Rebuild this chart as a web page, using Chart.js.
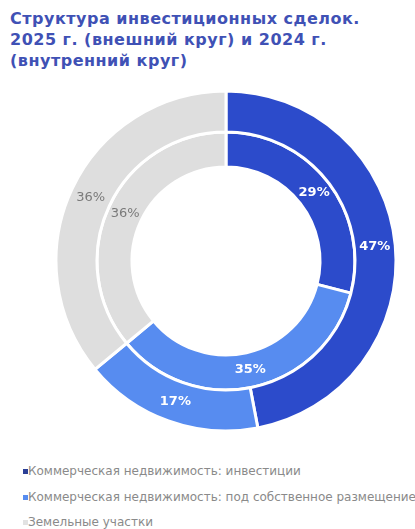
<!DOCTYPE html>
<html lang="ru">
<head>
<meta charset="utf-8">
<script src="https://cdn.jsdelivr.net/npm/chart.js@4"></script>
<style>
  html, body { margin: 0; padding: 0; background: #fff; }
  body { width: 415px; height: 529px; position: relative; overflow: hidden; font-family: "DejaVu Sans", Verdana, sans-serif; }
  .title { position: absolute; left: 10px; top: 8px; margin: 0; font-size: 16px; letter-spacing: 0.5px; line-height: 21px; font-weight: bold; color: #3f51b5; }
  .chart-box { position: absolute; left: 51px; top: 86px; width: 350px; height: 350px; }
  .legend { position: absolute; left: 23px; top: 462px; }
  .legend-item { position: relative; height: 25.5px; line-height: 18px; font-size: 12px; color: #8a8a8a; white-space: nowrap; padding-left: 5px; }
  .legend-item span.box { position: absolute; left: 0; top: 7px; width: 5px; height: 5px; }
</style>
</head>
<body>
<h1 class="title">Структура инвестиционных сделок.<br>2025 г. (внешний круг) и 2024 г.<br>(внутренний круг)</h1>
<div class="chart-box"><canvas id="dealsChart" width="350" height="350"></canvas></div>
<div class="legend" id="legend"></div>

<script>
  const categories = [
    "Коммерческая недвижимость: инвестиции",
    "Коммерческая недвижимость: под собственное размещение",
    "Земельные участки"
  ];
  const values2025 = [47, 17, 36]; // outer ring
  const values2024 = [29, 35, 36]; // inner ring
  const sliceColors = ["#2c4bcb", "#578cf0", "#dedede"];
  const legendColors = ["#2b3f96", "#578cf0", "#e2e2e2"];
  const labelColors = ["#ffffff", "#ffffff", "#7a7a7a"];

  // percent labels in the middle of every arc
  const arcLabels = {
    id: "arcLabels",
    afterDatasetsDraw(chart) {
      const ctx = chart.ctx;
      ctx.save();
      ctx.textAlign = "center";
      ctx.textBaseline = "middle";
      chart.data.datasets.forEach((ds, di) => {
        chart.getDatasetMeta(di).data.forEach((arc, i) => {
          const pos = arc.tooltipPosition();
          const isGrey = i === 2;
          ctx.font = (isGrey ? "" : "bold ") + "13px 'DejaVu Sans', Verdana, sans-serif";
          ctx.fillStyle = labelColors[i];
          ctx.fillText(ds.data[i] + "%", pos.x, pos.y);
        });
      });
      ctx.restore();
    }
  };

  new Chart(document.getElementById("dealsChart"), {
    type: "doughnut",
    data: {
      labels: categories,
      datasets: [
        { label: "2025", data: values2025, backgroundColor: sliceColors, borderColor: "#ffffff", borderWidth: 3, weight: 41 },
        { label: "2024", data: values2024, backgroundColor: sliceColors, borderColor: "#ffffff", borderWidth: 3, weight: 35 }
      ]
    },
    options: {
      responsive: false,
      animation: false,
      radius: 170,
      cutout: "55.3%",
      plugins: {
        legend: { display: false },
        tooltip: { enabled: false }
      }
    },
    plugins: [arcLabels]
  });

  // legend list under the chart
  const legendEl = document.getElementById("legend");
  categories.forEach((name, i) => {
    const item = document.createElement("div");
    item.className = "legend-item";
    item.innerHTML = `<span class="box" style="background:${legendColors[i]}"></span>${name}`;
    legendEl.appendChild(item);
  });
</script>
</body>
</html>
